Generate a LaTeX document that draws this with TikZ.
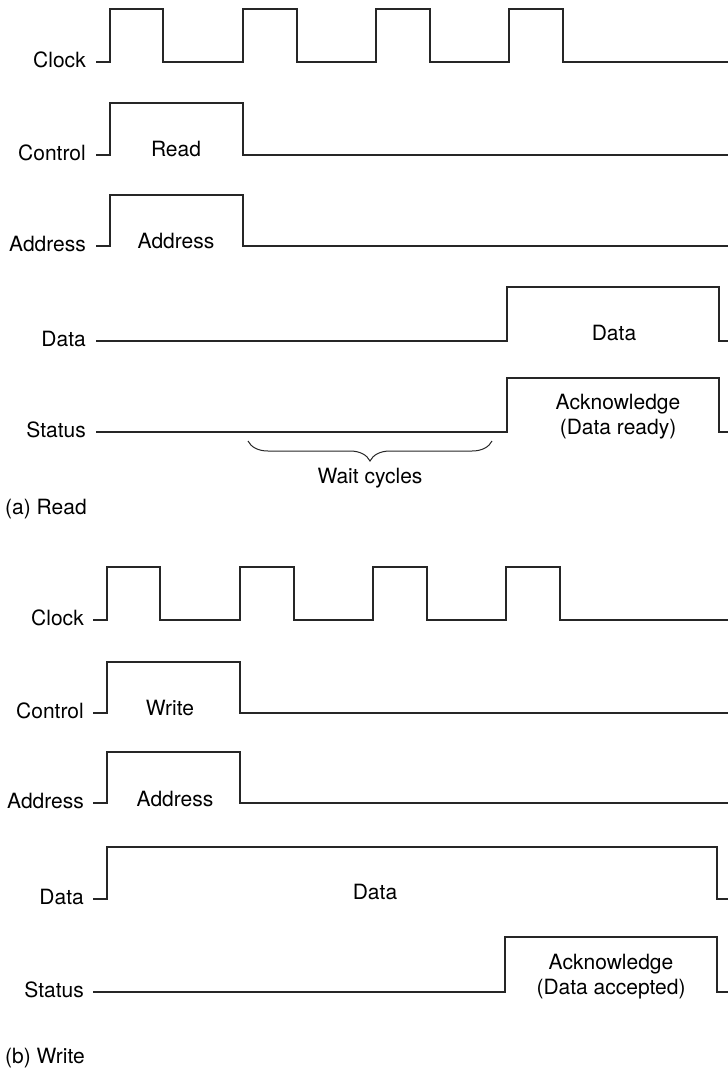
\documentclass[tikz,border=0pt]{standalone}
\usepackage{fontspec}
\setmainfont{TeX Gyre Heros}
\usetikzlibrary{decorations.pathreplacing}

\begin{document}
\begin{tikzpicture}[
    x=1pt, y=-1pt,
    wave/.style={draw=black!85, line width=1.4pt, line join=miter},
    sig/.style={anchor=base east, inner sep=0pt, font=\fontsize{21}{25}\selectfont},
    txt/.style={anchor=base, inner sep=0pt, align=center, font=\fontsize{21}{25}\selectfont},
    capt/.style={anchor=base west, inner sep=0pt, font=\fontsize{21}{25}\selectfont}
]
    \useasboundingbox (0,0) rectangle (728,1068);

    % (a) Read: signal names
    \node[sig] (clkA)  at (86,67)  {Clock};
    \node[sig] (ctlA)  at (86,160) {Control};
    \node[sig] (adrA)  at (86,251) {Address};
    \node[sig] (datA)  at (86,346) {Data};
    \node[sig] (staA)  at (86,437) {Status};

    % (a) Read: waveforms
    \draw[wave] (96,62) \foreach \r/\f in {110/163, 243/297, 376/430, 509/563}
        { -- (\r,62) -- (\r,9) -- (\f,9) -- (\f,62) } -- (728,62);
    \draw[wave] (96,155) -- (110,155) -- (110,103) -- (243,103) -- (243,155) -- (728,155);
    \draw[wave] (96,246) -- (110,246) -- (110,195) -- (243,195) -- (243,246) -- (728,246);
    \draw[wave] (96,341) -- (507,341) -- (507,287) -- (719,287) -- (719,341) -- (728,341);
    \draw[wave] (96,432) -- (507,432) -- (507,378) -- (719,378) -- (719,432) -- (728,432);

    \node[txt] (rdA)   at (176,156) {Read};
    \node[txt] (adA)   at (176,248) {Address};
    \node[txt] (dtA)   at (614,340) {Data};
    \node[txt] (ackA)  at (618,434) {Acknowledge\\(Data ready)};

    % wait cycles brace
    \draw[wave, line width=1pt, decorate, decoration={brace, mirror, amplitude=20pt}]
        (248,441) -- (492,441);
    \node[txt] (wait)  at (370,483) {Wait cycles};
    \node[capt] (capA) at (5,514) {(a) Read};

    % (b) Write: signal names
    \node[sig] (clkB)  at (84,625) {Clock};
    \node[sig] (ctlB)  at (84,718) {Control};
    \node[sig] (adrB)  at (84,808) {Address};
    \node[sig] (datB)  at (84,904) {Data};
    \node[sig] (staB)  at (84,997) {Status};

    % (b) Write: waveforms
    \draw[wave] (93,620) \foreach \r/\f in {107/160, 240/294, 373/427, 506/560}
        { -- (\r,620) -- (\r,567) -- (\f,567) -- (\f,620) } -- (728,620);
    \draw[wave] (93,713) -- (107,713) -- (107,662) -- (240,662) -- (240,713) -- (728,713);
    \draw[wave] (93,803) -- (107,803) -- (107,752) -- (240,752) -- (240,803) -- (728,803);
    \draw[wave] (93,899) -- (107,899) -- (107,847) -- (717,847) -- (717,899) -- (728,899);
    \draw[wave] (93,992) -- (505,992) -- (505,937) -- (717,937) -- (717,992) -- (728,992);

    \node[txt] (wrB)   at (170,715) {Write};
    \node[txt] (adB)   at (175,806) {Address};
    \node[txt] (dtB)   at (375,899) {Data};
    \node[txt] (ackB)  at (611,994) {Acknowledge\\(Data accepted)};
    \node[capt] (capB) at (5,1063) {(b) Write};
\end{tikzpicture}
\end{document}
